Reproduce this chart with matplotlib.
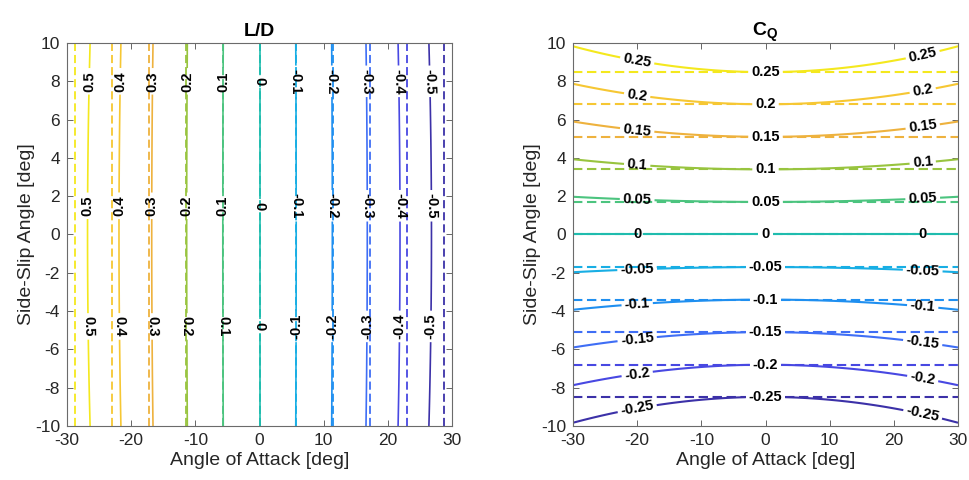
import numpy as np
import matplotlib.pyplot as plt

plt.rcParams['font.family'] = ['Liberation Sans', 'DejaVu Sans']
plt.rcParams['axes.unicode_minus'] = False
plt.rcParams['mathtext.fontset'] = 'custom'
plt.rcParams['mathtext.rm'] = 'Liberation Sans'
plt.rcParams['mathtext.bf'] = 'Liberation Sans:bold'

# L/D: angle of attack where each contour level sits
ld_levels = [-0.5, -0.4, -0.3, -0.2, -0.1, 0.0, 0.1, 0.2, 0.3, 0.4, 0.5]
ld_solid_mid = [26.8, 21.9, 16.8, 11.35, 5.72, 0.0, -5.72, -11.35, -16.8, -21.9, -26.8]    # beta = 0
ld_solid_edge = [26.4, 21.6, 16.6, 11.25, 5.65, 0.0, -5.65, -11.25, -16.6, -21.6, -26.4]   # beta = +-10
ld_dashed = [28.7, 23.0, 17.2, 11.5, 5.75, 0.0, -5.75, -11.5, -17.2, -23.0, -28.7]

# C_Q: side-slip angle where each contour level sits
cq_levels = [-0.25, -0.2, -0.15, -0.1, -0.05, 0.0, 0.05, 0.1, 0.15, 0.2, 0.25]
cq_solid_mid = [-8.48, -6.8, -5.1, -3.4, -1.7, 0.0, 1.7, 3.4, 5.1, 6.8, 8.48]        # alpha = 0
cq_solid_edge = [-9.83, -7.87, -5.9, -3.93, -1.97, 0.0, 1.97, 3.93, 5.9, 7.87, 9.83]  # alpha = +-30
cq_dashed = [-8.48, -6.8, -5.1, -3.4, -1.7, 0.0, 1.7, 3.4, 5.1, 6.8, 8.48]

# one colour per level, low to high
level_colors = ['#3c31a8', '#4848e2', '#3f6ef5', '#1f8ff0', '#18aee4', '#1fbcae',
                '#4cc47f', '#98c43f', '#eeb23e', '#f6c733', '#f4e81e']

ld_label_beta = [8.0, 1.5, -4.8]
cq_label_alpha = [-20.0, 0.0, 24.5]


def interp_ext(x, xp, fp):
    # piecewise linear through the read positions, extended past the ends
    xp = np.asarray(xp, float)
    fp = np.asarray(fp, float)
    o = np.argsort(xp)
    xp, fp = xp[o], fp[o]
    s0 = (fp[1] - fp[0]) / (xp[1] - xp[0])
    s1 = (fp[-1] - fp[-2]) / (xp[-1] - xp[-2])
    xp2 = np.r_[xp[0] - 20, xp, xp[-1] + 20]
    fp2 = np.r_[fp[0] - 20 * s0, fp, fp[-1] + 20 * s1]
    return np.interp(x, xp2, fp2)


def bend(mid, edge, t):
    mid = np.asarray(mid, float)
    edge = np.asarray(edge, float)
    return mid + (edge - mid) * t ** 2


alpha = np.linspace(-30, 30, 240)
beta = np.linspace(-10, 10, 160)

ld_solid = np.array([interp_ext(alpha, bend(ld_solid_mid, ld_solid_edge, b / 10), ld_levels) for b in beta])
ld_dash = np.tile(interp_ext(alpha, ld_dashed, ld_levels), (len(beta), 1))
cq_solid = np.array([interp_ext(beta, bend(cq_solid_mid, cq_solid_edge, a / 30), cq_levels) for a in alpha]).T
cq_dash = np.tile(interp_ext(beta, cq_dashed, cq_levels)[:, None], (1, len(alpha)))


def fmt(v):
    return '0' if abs(v) < 1e-9 else f'{v:g}'


def style(ax, title):
    ax.set_xlim(-30, 30)
    ax.set_ylim(-10, 10)
    ax.set_xticks(np.arange(-30, 31, 10))
    ax.set_yticks(np.arange(-10, 11, 2))
    ax.tick_params(direction='in', top=True, right=True, length=4, width=0.6, pad=5,
                   color='#4d4d4d', labelcolor='#262626', labelsize=12.5)
    for s in ax.spines.values():
        s.set_color('#6b6b6b')
        s.set_linewidth(0.8)
    ax.set_xlabel('Angle of Attack [deg]', fontsize=14, color='#262626', labelpad=3)
    ax.set_ylabel('Side-Slip Angle [deg]', fontsize=14, color='#262626', labelpad=0)
    ax.set_title(title, fontsize=14, fontweight='bold', pad=5)


fig = plt.figure(figsize=(9.69, 4.8), dpi=100)
ax1 = fig.add_axes([67 / 969, 54 / 480, 385 / 969, 383 / 480])
ax2 = fig.add_axes([573 / 969, 54 / 480, 385 / 969, 383 / 480])

# L/D
cs1 = ax1.contour(alpha, beta, ld_solid, levels=ld_levels, colors=level_colors,
                  linestyles='solid', linewidths=1.2)
cd1 = ax1.contour(alpha, beta, ld_dash, levels=ld_levels, colors=level_colors,
                  linestyles='dashed', linewidths=1.3)
cd1.set_linestyle((0, (4.5, 2.2)))
pos1 = []
for b in ld_label_beta:
    xs = bend(ld_solid_mid, ld_solid_edge, b / 10)
    pos1 += [(x, b) for x in xs]
with plt.rc_context({'font.weight': 'bold'}):
    cs1.clabel(fmt=fmt, fontsize=10.5, colors='k', manual=pos1, inline_spacing=3)
style(ax1, 'L/D')

# C_Q
cs2 = ax2.contour(alpha, beta, cq_solid, levels=cq_levels, colors=level_colors,
                  linestyles='solid', linewidths=1.5)
cd2 = ax2.contour(alpha, beta, cq_dash, levels=cq_levels, colors=level_colors,
                  linestyles='dashed', linewidths=1.5)
cd2.set_linestyle((0, (4.5, 2.2)))
pos2 = []
for a in cq_label_alpha:
    ys = bend(cq_solid_mid, cq_solid_edge, a / 30)
    pos2 += [(a, y) for y in ys]
with plt.rc_context({'font.weight': 'bold'}):
    cs2.clabel(fmt=fmt, fontsize=10.5, colors='k', manual=pos2, inline_spacing=3)
    # gap in the dashed lines under the centre labels
    hidden = cd2.clabel(fmt=fmt, fontsize=10.5, colors='k',
                        manual=[(0.0, y) for y in cq_dashed], inline_spacing=3)
for t in hidden:
    t.set_visible(False)
style(ax2, r'$\mathbf{C_Q}$')

fig.savefig('out.png', dpi=100)
